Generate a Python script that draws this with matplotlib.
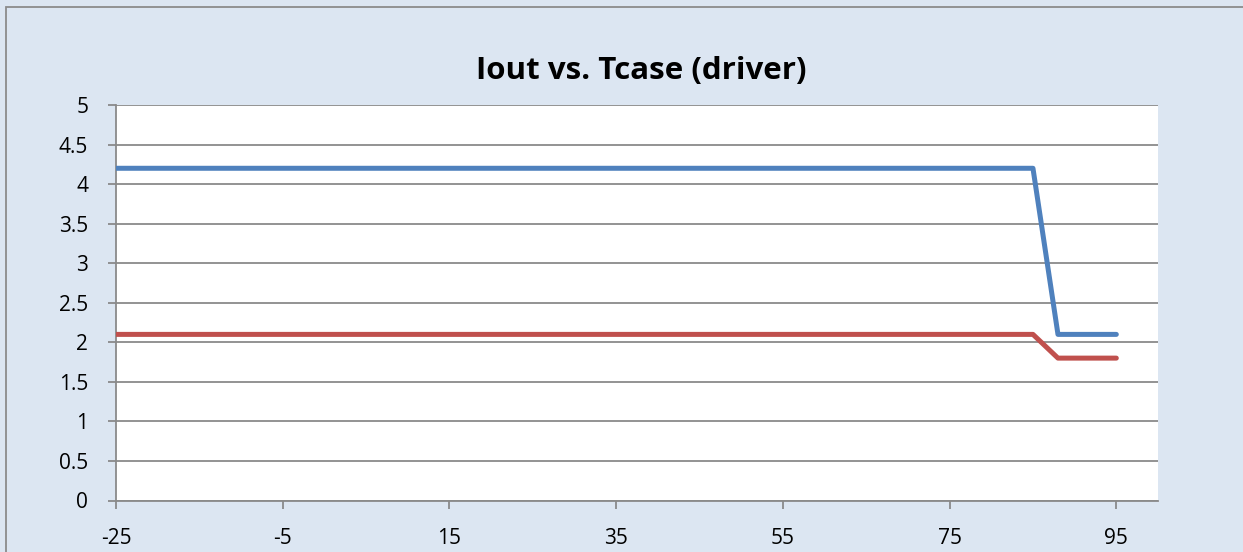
import matplotlib
matplotlib.use("Agg")
import matplotlib.pyplot as plt

# Data
tcase = [-25, 85, 88, 95]
iout_blue = [4.2, 4.2, 2.1, 2.1]
iout_red = [2.1, 2.1, 1.8, 1.8]
xticks = [-25, -5, 15, 35, 55, 75, 95]
yticks = [0, 0.5, 1, 1.5, 2, 2.5, 3, 3.5, 4, 4.5, 5]
ytick_labels = ["0", "0.5", "1", "1.5", "2", "2.5", "3", "3.5", "4", "4.5", "5"]
xtick_labels = ["-25", "-5", "15", "35", "55", "75", "95"]

plt.rcParams['font.family'] = ['Open Sans', 'DejaVu Sans']
plt.rcParams['axes.unicode_minus'] = False

W, H = 1243, 552
fig = plt.figure(figsize=(W / 100, H / 100), dpi=100)
bg = "#DCE6F2"
fig.patch.set_facecolor(bg)

# background axes in pixel coordinates for the outer chart border
bax = fig.add_axes([0, 0, 1, 1])
bax.set_xlim(0, W)
bax.set_ylim(H, 0)
bax.axis("off")
bax.plot([6.5, 6.5, W + 20], [H + 20, 6.5, 6.5], color="#8c8c8c", linewidth=1.3,
         solid_joinstyle="miter", clip_on=True)

left, right, top, bottom = 116, 1158, 105, 500.5
ax = fig.add_axes([left / W, 1 - bottom / H, (right - left) / W, (bottom - top) / H])
ax.set_facecolor("white")

ax.plot(tcase, iout_blue, color="#4F81BD", linewidth=3.6, solid_capstyle="round", solid_joinstyle="round", zorder=3)
ax.plot(tcase, iout_red, color="#C0504D", linewidth=3.6, solid_capstyle="round", solid_joinstyle="round", zorder=3)

ax.set_xlim(-25, 100)
ax.set_ylim(0, 5)
ax.set_xticks(xticks)
ax.set_xticklabels(xtick_labels)
ax.set_yticks(yticks)
ax.set_yticklabels(ytick_labels)
ax.grid(axis="y", color="#8a8a8a", linewidth=1.3)
ax.set_axisbelow(True)
for s in ["top", "right"]:
    ax.spines[s].set_visible(False)
for s in ["left", "bottom"]:
    ax.spines[s].set_color("#8a8a8a")
    ax.spines[s].set_linewidth(1.3)
ax.tick_params(axis="both", direction="out", length=6, width=1.3, color="#8a8a8a",
               labelsize=15, labelcolor="black")
ax.tick_params(axis="x", pad=14)
ax.tick_params(axis="y", pad=14)

fig.text(641 / W, 1 - 71 / H, "Iout vs. Tcase (driver)", ha="center", va="center",
         fontsize=22.5, fontweight="bold")

fig.savefig("out.png", dpi=100, facecolor=bg)
